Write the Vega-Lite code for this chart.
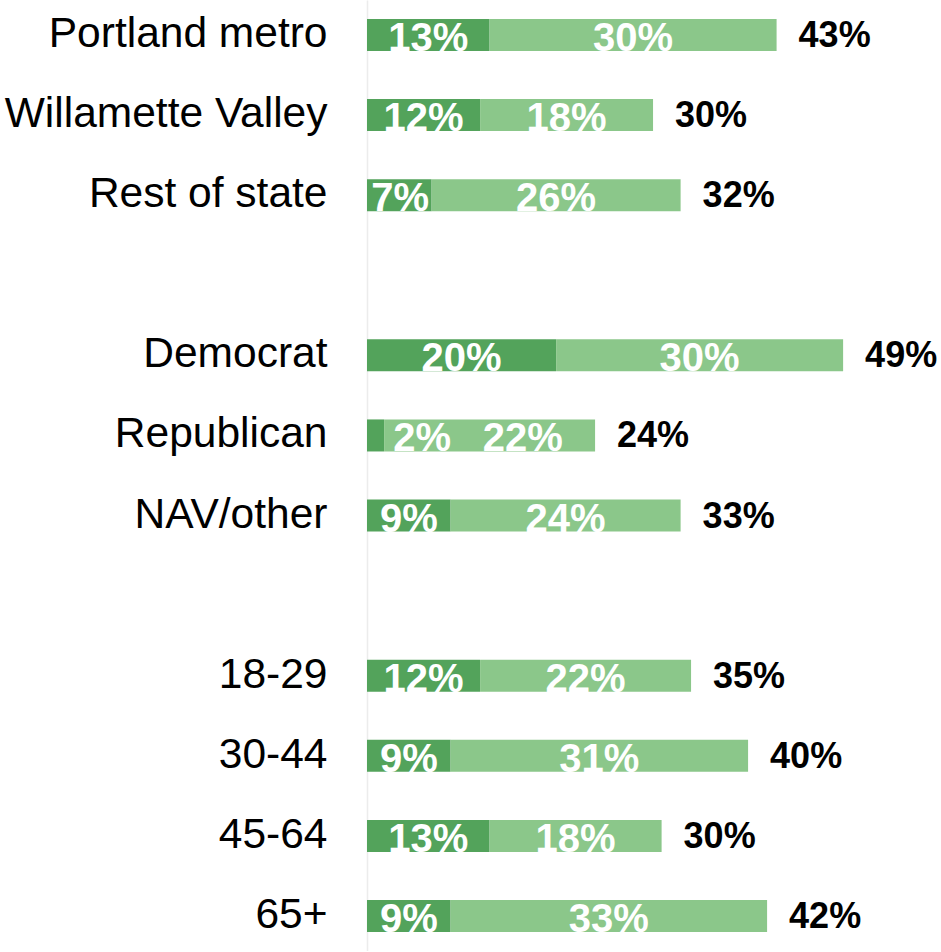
{
  "$schema": "https://vega.github.io/schema/vega-lite/v6.json",
  "autosize": {"type": "none"},
  "padding": {"left": 367, "top": 0, "right": 0, "bottom": 0},
  "width": 574,
  "height": 951,
  "background": "white",
  "config": {"view": {"stroke": null}, "font": "Liberation Sans"},
  "data": {"values": [
    {"cat": "Portland metro", "seg": "strong", "rank": 1, "value": 12.9, "label": "13%", "total_label": "43%"},
    {"cat": "Portland metro", "seg": "somewhat", "rank": 2, "value": 30.2, "label": "30%", "total_label": "43%"},
    {"cat": "Willamette Valley", "seg": "strong", "rank": 1, "value": 11.9, "label": "12%", "total_label": "30%"},
    {"cat": "Willamette Valley", "seg": "somewhat", "rank": 2, "value": 18.2, "label": "18%", "total_label": "30%"},
    {"cat": "Rest of state", "seg": "strong", "rank": 1, "value": 6.8, "label": "7%", "total_label": "32%"},
    {"cat": "Rest of state", "seg": "somewhat", "rank": 2, "value": 26.2, "label": "26%", "total_label": "32%"},
    {"cat": "Democrat", "seg": "strong", "rank": 1, "value": 19.9, "label": "20%", "total_label": "49%"},
    {"cat": "Democrat", "seg": "somewhat", "rank": 2, "value": 30.2, "label": "30%", "total_label": "49%"},
    {"cat": "Republican", "seg": "strong", "rank": 1, "value": 1.8, "label": "2%", "total_label": "24%"},
    {"cat": "Republican", "seg": "somewhat", "rank": 2, "value": 22.2, "label": "22%", "total_label": "24%"},
    {"cat": "NAV/other", "seg": "strong", "rank": 1, "value": 8.8, "label": "9%", "total_label": "33%"},
    {"cat": "NAV/other", "seg": "somewhat", "rank": 2, "value": 24.2, "label": "24%", "total_label": "33%"},
    {"cat": "18-29", "seg": "strong", "rank": 1, "value": 11.9, "label": "12%", "total_label": "35%"},
    {"cat": "18-29", "seg": "somewhat", "rank": 2, "value": 22.2, "label": "22%", "total_label": "35%"},
    {"cat": "30-44", "seg": "strong", "rank": 1, "value": 8.8, "label": "9%", "total_label": "40%"},
    {"cat": "30-44", "seg": "somewhat", "rank": 2, "value": 31.3, "label": "31%", "total_label": "40%"},
    {"cat": "45-64", "seg": "strong", "rank": 1, "value": 12.9, "label": "13%", "total_label": "30%"},
    {"cat": "45-64", "seg": "somewhat", "rank": 2, "value": 18.1, "label": "18%", "total_label": "30%"},
    {"cat": "65+", "seg": "strong", "rank": 1, "value": 8.8, "label": "9%", "total_label": "42%"},
    {"cat": "65+", "seg": "somewhat", "rank": 2, "value": 33.3, "label": "33%", "total_label": "42%"}
  ]},
  "encoding": {
    "y": {
      "field": "cat",
      "type": "nominal",
      "scale": {
        "domain": ["Portland metro", "Willamette Valley", "Rest of state", "gap1", "Democrat", "Republican", "NAV/other", "gap2", "18-29", "30-44", "45-64", "65+"],
        "paddingInner": 0.6,
        "paddingOuter": 0.2365
      },
      "axis": {
        "title": null,
        "ticks": false,
        "labelPadding": 40,
        "labelFontSize": 42.5,
        "labelColor": "#000000",
        "labelBaseline": "alphabetic",
        "labelOffset": 12,
        "labelLimit": 400,
        "labelExpr": "indexof(datum.value, 'gap') == 0 ? '' : datum.value",
        "domainColor": "#ececec",
        "domainWidth": 1.5,
        "grid": false
      }
    }
  },
  "layer": [
    {
      "transform": [
        {"stack": "value", "groupby": ["cat"], "sort": [{"field": "rank", "order": "ascending"}], "as": ["x0", "x1"]}
      ],
      "mark": {"type": "bar"},
      "encoding": {
        "x": {"field": "x0", "type": "quantitative", "scale": {"domain": [0, 60.4], "nice": false, "zero": true}, "axis": null},
        "x2": {"field": "x1"},
        "color": {"field": "seg", "type": "nominal", "scale": {"domain": ["strong", "somewhat"], "range": ["#53a35b", "#8bc78a"]}, "legend": null}
      }
    },
    {
      "transform": [
        {"stack": "value", "groupby": ["cat"], "sort": [{"field": "rank", "order": "ascending"}], "as": ["x0", "x1"]},
        {"calculate": "(datum.x1 - datum.x0) < 3 ? datum.x0 + 5.8 : (datum.x0 > 0 && datum.x0 < 3 ? (datum.x0 + datum.x1) / 2 + 3.5 : max((datum.x0 + datum.x1) / 2, datum.x0 + 3.5))", "as": "mid"}
      ],
      "mark": {"type": "text", "align": "center", "baseline": "alphabetic", "dy": 16, "fontSize": 40, "fontWeight": "bold", "color": "white"},
      "encoding": {
        "x": {"field": "mid", "type": "quantitative"},
        "text": {"field": "label"}
      }
    },
    {
      "transform": [
        {"aggregate": [{"op": "sum", "field": "value", "as": "total"}], "groupby": ["cat", "total_label"]}
      ],
      "mark": {"type": "text", "align": "left", "baseline": "alphabetic", "dx": 22, "dy": 12, "fontSize": 36, "fontWeight": "bold", "color": "black"},
      "encoding": {
        "x": {"field": "total", "type": "quantitative"},
        "text": {"field": "total_label"}
      }
    }
  ]
}
